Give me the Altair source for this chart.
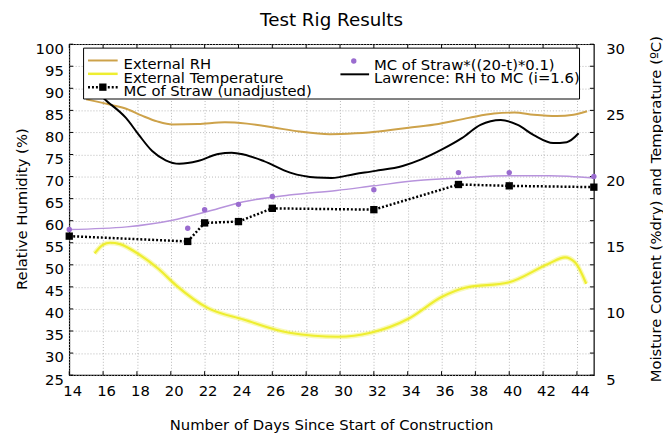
import altair as alt
import pandas as pd

# ---- data ----
rh_day = [15.0, 15.5, 16.5, 17.4, 18.3, 19.2, 20.1, 21.6, 23.2, 24.5, 26.1, 27.6, 29.4, 30.9, 31.7, 33.7, 35.6, 37.6, 39.1, 40.3, 41.45, 42.8, 43.8, 44.6]
rh_val = [87.5, 87.1, 86.2, 85.3, 83.8, 82.5, 81.8, 81.9, 82.3, 82.0, 81.1, 80.2, 79.6, 79.8, 80.0, 80.9, 81.8, 83.3, 84.3, 84.5, 84.0, 83.7, 84.0, 84.8]

temp_day = [15.5, 16.0, 16.4, 17.0, 17.9, 19.3, 20.3, 22.2, 24.3, 27.0, 29.9, 31.8, 34.1, 36.0, 37.4, 39.95, 42.3, 43.3, 43.9, 44.55]
temp_val = [14.2, 14.85, 15.0, 14.9, 14.3, 13.0, 11.8, 10.06, 9.2, 8.2, 7.9, 8.2, 9.3, 10.9, 11.6, 12.0, 13.4, 13.9, 13.5, 11.9]

law_day = [14.95, 15.7, 16.4, 17.35, 18.1, 18.9, 19.7, 20.5, 21.6, 22.8, 23.6, 24.3, 25.5, 27.05, 28.6, 29.5, 30.9, 32.1, 33.7, 34.8, 36.0, 37.2, 38.3, 39.5, 40.5, 41.45, 42.6, 43.4, 44.1]
law_val = [25.93, 26.13, 25.5, 24.43, 23.17, 21.93, 21.23, 20.97, 21.17, 21.7, 21.8, 21.67, 21.17, 20.3, 19.93, 19.9, 20.2, 20.43, 20.8, 21.3, 22.03, 22.9, 23.9, 24.27, 23.9, 23.13, 22.53, 22.6, 23.27]

fit_day = [14, 17.4, 20.1, 22, 24.3, 27, 29.8, 32, 34.6, 37.2, 39.9, 42.4, 45]
fit_val = [16.0, 16.2, 16.7, 17.3, 18.1, 18.6, 18.95, 19.3, 19.7, 19.9, 20.07, 20.07, 19.9]

mc_day = [14, 21, 22, 24, 26, 32, 37, 40, 45]
mc_adj = [16.0, 16.1, 17.5, 17.9, 18.5, 19.0, 20.3, 20.3, 20.0]
mc_raw = [15.5, 15.1, 16.5, 16.6, 17.6, 17.5, 19.4, 19.3, 19.2]

x_ticks = list(range(14, 45, 2))
yl_ticks = list(range(25, 101, 5))
yr_ticks = list(range(5, 31, 5))

W, H = 531, 335
FONT = "DejaVu Sans"
GOLD = "#cda24a"
YEL = "#eeee30"
PURP_L = "#b793dc"
PURP_D = "#9a6ccf"

xscale = alt.Scale(domain=[14, 45], nice=False, zero=False)
yl = alt.Scale(domain=[25, 100], nice=False, zero=False)
yr = alt.Scale(domain=[5, 30], nice=False, zero=False)

grid_kw = dict(gridColor="#b8b8b8", gridDash=[1, 2], gridWidth=1)
xaxis = alt.Axis(values=x_ticks, grid=True, ticks=False, tickSize=0, domain=False,
                 labelFontSize=15, labelPadding=9, labelOffset=3, labelColor="black",
                 labelFlush=False, labelOverlap=False, title=None, **grid_kw)
ylaxis = alt.Axis(values=yl_ticks, grid=True, ticks=False, tickSize=0, domain=False,
                  labelFontSize=15, labelPadding=6, labelOffset=4, labelColor="black",
                  labelFlush=False, labelOverlap=False, title=None, **grid_kw)
yraxis = alt.Axis(values=yr_ticks, grid=False, ticks=False, tickSize=0, domain=False,
                  orient="right", labelFontSize=15, labelPadding=12, labelOffset=4,
                  labelColor="black", labelFlush=False, labelOverlap=False, title=None)

X = lambda f: alt.X(f, type="quantitative", scale=xscale, axis=xaxis)
YL = lambda f: alt.Y(f, type="quantitative", scale=yl, axis=ylaxis)
YR = lambda f: alt.Y(f, type="quantitative", scale=yr, axis=yraxis)

df_rh = pd.DataFrame({"day": rh_day, "v": rh_val})
df_temp = pd.DataFrame({"day": temp_day, "v": temp_val})
df_law = pd.DataFrame({"day": law_day, "v": law_val})
df_fit = pd.DataFrame({"day": fit_day, "v": fit_val})
df_mc = pd.DataFrame({"day": mc_day, "adj": mc_adj, "raw": mc_raw})
df_yl = pd.DataFrame({"v": yl_ticks})
df_x = pd.DataFrame({"day": x_ticks})

# left-axis group
rh_line = alt.Chart(df_rh).mark_line(color=GOLD, strokeWidth=2, interpolate="monotone").encode(x=X("day"), y=YL("v"))
lt_ticks = alt.Chart(df_yl).mark_rule(color="black", strokeWidth=1).encode(y=YL("v"), x=alt.value(0), x2=alt.value(4))
rt_ticks = alt.Chart(df_yl).mark_rule(color="black", strokeWidth=1).encode(y=YL("v"), x=alt.value(W - 4), x2=alt.value(W))
left = alt.layer(rh_line, lt_ticks, rt_ticks)

# right-axis group
temp_glow = alt.Chart(df_temp).mark_line(color=YEL, strokeWidth=5, opacity=0.35, interpolate="monotone").encode(x=X("day"), y=YR("v"))
temp_line = alt.Chart(df_temp).mark_line(color=YEL, strokeWidth=2.2, interpolate="monotone").encode(x=X("day"), y=YR("v"))
fit_line = alt.Chart(df_fit).mark_line(color=PURP_L, strokeWidth=1.5, interpolate="monotone").encode(x=X("day"), y=YR("v"))
adj_pts = alt.Chart(df_mc).mark_circle(color=PURP_D, size=30, opacity=1).encode(x=X("day"), y=YR("adj"))
raw_line = alt.Chart(df_mc).mark_line(color="black", strokeWidth=2.5, strokeDash=[2, 2]).encode(x=X("day"), y=YR("raw"))
raw_pts = alt.Chart(df_mc).mark_square(color="black", size=55, opacity=1).encode(x=X("day"), y=YR("raw"))
law_line = alt.Chart(df_law).mark_line(color="black", strokeWidth=2, interpolate="monotone").encode(x=X("day"), y=YR("v"))
right = alt.layer(temp_glow, temp_line, fit_line, adj_pts, raw_line, raw_pts, law_line)

# x ticks (inward, bottom and top)
bt_ticks = alt.Chart(df_x).mark_rule(color="black").encode(x=X("day"), y=alt.value(H - 4), y2=alt.value(H))
tp_ticks = alt.Chart(df_x).mark_rule(color="black").encode(x=X("day"), y=alt.value(0), y2=alt.value(4))

# legend box
dummy = pd.DataFrame({"a": [0]})
base = alt.Chart(dummy)
box = base.mark_rect(fill="white", stroke="black", strokeWidth=1).encode(
    x=alt.value(14.5), x2=alt.value(516.5), y=alt.value(4), y2=alt.value(55.5))
leg = [box]
leg.append(base.mark_rule(color=GOLD, strokeWidth=2).encode(x=alt.value(19), x2=alt.value(49), y=alt.value(16.5)))
leg.append(base.mark_rule(color=YEL, strokeWidth=2.5).encode(x=alt.value(19), x2=alt.value(49), y=alt.value(30)))
leg.append(base.mark_rule(color="black", strokeWidth=2.5, strokeDash=[2, 2]).encode(x=alt.value(19), x2=alt.value(49), y=alt.value(43.5)))
leg.append(base.mark_square(color="black", size=55, opacity=1).encode(x=alt.value(34), y=alt.value(43.5)))
leg.append(base.mark_circle(color=PURP_D, size=30, opacity=1).encode(x=alt.value(288), y=alt.value(17)))
leg.append(base.mark_rule(color="black", strokeWidth=2).encode(x=alt.value(274.5), x2=alt.value(303.5), y=alt.value(30.5)))

def txt(s, x, y, size=15, angle=0, align="left"):
    return base.mark_text(text=s, font=FONT, fontSize=size, color="black", align=align,
                          baseline="middle", angle=angle).encode(x=alt.value(x), y=alt.value(y))

leg.append(txt("External RH", 55, 20.5))
leg.append(txt("External Temperature", 55, 34))
leg.append(txt("MC of Straw (unadjusted)", 55, 47.5))
leg.append(txt("MC of Straw*((20-t)*0.1)", 308.5, 21))
leg.append(txt("Lawrence: RH to MC (i=1.6)", 308.5, 34.5))

titles = [
    txt("Test Rig Results", W / 2, -24.5, size=18.5, align="center"),
    txt("Relative Humidity (%)", -48, 167, angle=270, align="center"),
    txt("Moisture Content (%dry) and Temperature (ºC)", 593.5, 167, angle=270, align="center"),
    txt("Number of Days Since Start of Construction", W / 2, 386, align="center"),
]

chart = alt.layer(
    alt.layer(left, right).resolve_scale(y="independent"),
    bt_ticks, tp_ticks, *leg, *titles,
).properties(
    width=W, height=H,
    padding={"left": 62, "top": 34, "right": 70, "bottom": 61},
    autosize=alt.AutoSizeParams(type="none"),
).configure(font=FONT).configure_view(stroke="black", strokeWidth=1.2)

chart.save("out.html", embed_options={"renderer": "svg", "actions": False})
